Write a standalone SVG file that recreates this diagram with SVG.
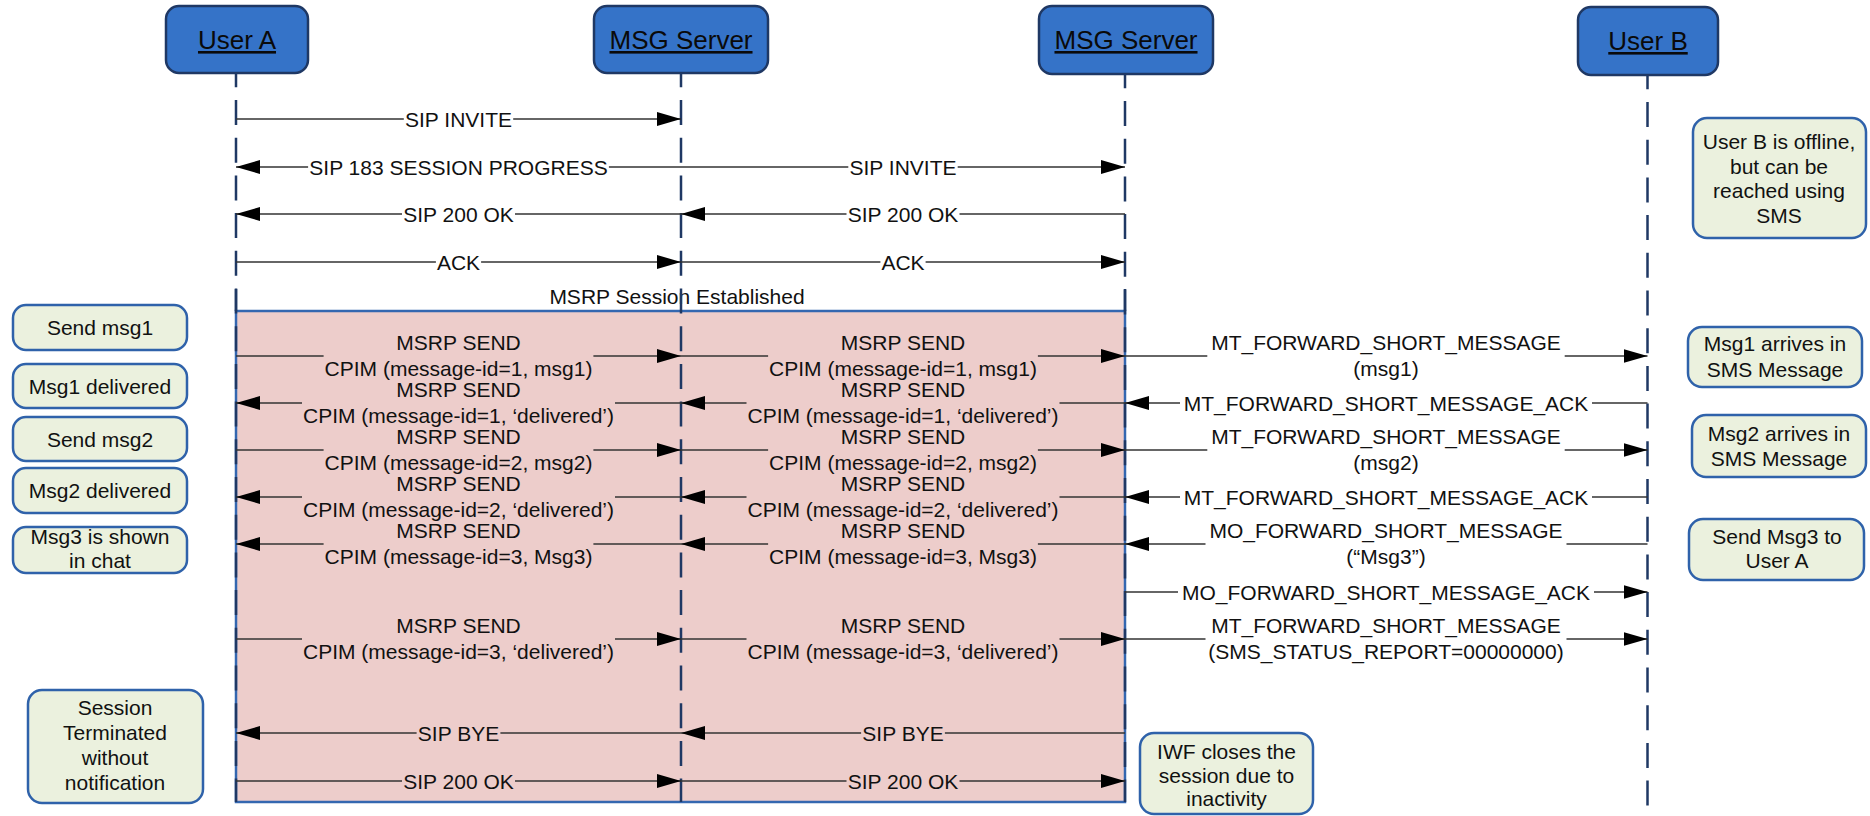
<svg xmlns="http://www.w3.org/2000/svg" width="1870" height="816" viewBox="0 0 1870 816">
<style>
.t{font-family:"Liberation Sans",Arial,sans-serif;font-size:21px;fill:#111;text-anchor:middle}
.nl{font-family:"Liberation Sans",Arial,sans-serif;font-size:26px;fill:#0a0a0a;text-anchor:middle;text-decoration:underline}
.node{fill:#3573C8;stroke:#1F3864;stroke-width:2.5}
.note{fill:#EBF1DE;stroke:#2F62AA;stroke-width:2.5}
.life{stroke:#1F3864;stroke-width:2.5;stroke-dasharray:25 12.7;stroke-dashoffset:10.7;fill:none}
.msg{stroke:#333;stroke-width:1.4;fill:none}
.arr{stroke:#333;stroke-width:1.4;fill:none;marker-end:url(#ah)}
</style>
<defs>
<marker id="ah" viewBox="0 0 24 14" refX="24" refY="7" markerWidth="24" markerHeight="14" markerUnits="userSpaceOnUse" orient="auto"><path d="M0,0 L24,7 L0,14 z" fill="#000"/></marker>
</defs>
<rect width="1870" height="816" fill="#fff"/>

<g id="msrp-frame">
<rect x="236" y="311" width="889" height="491" fill="#EDCDCB" stroke="#3467B0" stroke-width="2.5"/>
<line x1="236" y1="289" x2="236" y2="311" stroke="#1F3864" stroke-width="2.5"/>
<line x1="1125" y1="289" x2="1125" y2="311" stroke="#1F3864" stroke-width="2.5"/>
<text class="t" x="677" y="304">MSRP Session Established</text>
</g>

<g id="lifelines">
<line class="life" x1="236" y1="73" x2="236" y2="802"/>
<line class="life" x1="681" y1="73" x2="681" y2="802"/>
<line class="life" x1="1125" y1="74" x2="1125" y2="802"/>
<line class="life" x1="1647.5" y1="75" x2="1647.5" y2="806"/>
</g>

<g id="node-userA"><rect class="node" x="166" y="6" width="142" height="67" rx="13"/><text class="nl" x="237" y="49">User A</text></g>
<g id="node-msg1"><rect class="node" x="594" y="6" width="174" height="67" rx="13"/><text class="nl" x="681" y="49">MSG Server</text></g>
<g id="node-msg2"><rect class="node" x="1039" y="6" width="174" height="68" rx="13"/><text class="nl" x="1126" y="49">MSG Server</text></g>
<g id="node-userB"><rect class="node" x="1578" y="7" width="140" height="68" rx="13"/><text class="nl" x="1648" y="50">User B</text></g>

<g id="connectors">
<!-- SIP setup -->
<path class="msg" d="M236 119H403.8"/><path class="arr" d="M513.2 119H681"/>
<text class="t" x="458.5" y="126.5">SIP INVITE</text>
<path class="msg" d="M681 167H608.9"/><path class="arr" d="M308.1 167H236"/>
<text class="t" x="458.5" y="174.5">SIP 183 SESSION PROGRESS</text>
<path class="msg" d="M681 167H848.3"/><path class="arr" d="M957.7 167H1125"/>
<text class="t" x="903" y="174.5">SIP INVITE</text>
<path class="msg" d="M681 214H515"/><path class="arr" d="M402 214H236"/>
<text class="t" x="458.5" y="221.5">SIP 200 OK</text>
<path class="msg" d="M1125 214H959.5"/><path class="arr" d="M846.5 214H681"/>
<text class="t" x="903" y="221.5">SIP 200 OK</text>
<path class="msg" d="M236 262H435.9"/><path class="arr" d="M481.1 262H681"/>
<text class="t" x="458.5" y="269.5">ACK</text>
<path class="msg" d="M681 262H880.4"/><path class="arr" d="M925.6 262H1125"/>
<text class="t" x="903" y="269.5">ACK</text>

<!-- MSRP row 1 -->
<path class="msg" d="M236 356H323.6"/><path class="arr" d="M593.4 356H681"/>
<text class="t" x="458.5" y="350">MSRP SEND</text><text class="t" x="458.5" y="375.5">CPIM (message-id=1, msg1)</text>
<path class="msg" d="M681 356H768.1"/><path class="arr" d="M1037.9 356H1125"/>
<text class="t" x="903" y="350">MSRP SEND</text><text class="t" x="903" y="375.5">CPIM (message-id=1, msg1)</text>
<path class="msg" d="M1125 356H1207.3"/><path class="arr" d="M1564.7 356H1647.5"/>
<text class="t" x="1386" y="350">MT_FORWARD_SHORT_MESSAGE</text><text class="t" x="1386" y="375.5">(msg1)</text>

<!-- row 2 -->
<path class="msg" d="M681 403H615"/><path class="arr" d="M302 403H236"/>
<text class="t" x="458.5" y="397">MSRP SEND</text><text class="t" x="458.5" y="422.5">CPIM (message-id=1, ‘delivered’)</text>
<path class="msg" d="M1125 403H1059.5"/><path class="arr" d="M746.5 403H681"/>
<text class="t" x="903" y="397">MSRP SEND</text><text class="t" x="903" y="422.5">CPIM (message-id=1, ‘delivered’)</text>
<path class="msg" d="M1647.5 403H1592"/><path class="arr" d="M1180 403H1125"/>
<text class="t" x="1386" y="410.5">MT_FORWARD_SHORT_MESSAGE_ACK</text>

<!-- row 3 -->
<path class="msg" d="M236 450H323.6"/><path class="arr" d="M593.4 450H681"/>
<text class="t" x="458.5" y="444">MSRP SEND</text><text class="t" x="458.5" y="469.5">CPIM (message-id=2, msg2)</text>
<path class="msg" d="M681 450H768.1"/><path class="arr" d="M1037.9 450H1125"/>
<text class="t" x="903" y="444">MSRP SEND</text><text class="t" x="903" y="469.5">CPIM (message-id=2, msg2)</text>
<path class="msg" d="M1125 450H1207.3"/><path class="arr" d="M1564.7 450H1647.5"/>
<text class="t" x="1386" y="444">MT_FORWARD_SHORT_MESSAGE</text><text class="t" x="1386" y="469.5">(msg2)</text>

<!-- row 4 -->
<path class="msg" d="M681 497H615"/><path class="arr" d="M302 497H236"/>
<text class="t" x="458.5" y="491">MSRP SEND</text><text class="t" x="458.5" y="516.5">CPIM (message-id=2, ‘delivered’)</text>
<path class="msg" d="M1125 497H1059.5"/><path class="arr" d="M746.5 497H681"/>
<text class="t" x="903" y="491">MSRP SEND</text><text class="t" x="903" y="516.5">CPIM (message-id=2, ‘delivered’)</text>
<path class="msg" d="M1647.5 497H1592"/><path class="arr" d="M1180 497H1125"/>
<text class="t" x="1386" y="504.5">MT_FORWARD_SHORT_MESSAGE_ACK</text>

<!-- row 5 -->
<path class="msg" d="M681 544H593.4"/><path class="arr" d="M323.6 544H236"/>
<text class="t" x="458.5" y="538">MSRP SEND</text><text class="t" x="458.5" y="563.5">CPIM (message-id=3, Msg3)</text>
<path class="msg" d="M1125 544H1037.9"/><path class="arr" d="M768.1 544H681"/>
<text class="t" x="903" y="538">MSRP SEND</text><text class="t" x="903" y="563.5">CPIM (message-id=3, Msg3)</text>
<path class="msg" d="M1647.5 544H1566.5"/><path class="arr" d="M1205.5 544H1125"/>
<text class="t" x="1386" y="538">MO_FORWARD_SHORT_MESSAGE</text><text class="t" x="1386" y="563.5">(“Msg3”)</text>

<!-- row 6 -->
<path class="msg" d="M1125 592H1178"/><path class="arr" d="M1594 592H1647.5"/>
<text class="t" x="1386" y="599.5">MO_FORWARD_SHORT_MESSAGE_ACK</text>

<!-- row 7 -->
<path class="msg" d="M236 639H302"/><path class="arr" d="M615 639H681"/>
<text class="t" x="458.5" y="633">MSRP SEND</text><text class="t" x="458.5" y="658.5">CPIM (message-id=3, ‘delivered’)</text>
<path class="msg" d="M681 639H746.5"/><path class="arr" d="M1059.5 639H1125"/>
<text class="t" x="903" y="633">MSRP SEND</text><text class="t" x="903" y="658.5">CPIM (message-id=3, ‘delivered’)</text>
<path class="msg" d="M1125 639H1205.5"/><path class="arr" d="M1566.5 639H1647.5"/>
<text class="t" x="1386" y="633">MT_FORWARD_SHORT_MESSAGE</text><text class="t" x="1386" y="658.5">(SMS_STATUS_REPORT=00000000)</text>

<!-- teardown -->
<path class="msg" d="M681 733H500.4"/><path class="arr" d="M416.6 733H236"/>
<text class="t" x="458.5" y="740.5">SIP BYE</text>
<path class="msg" d="M1125 733H944.9"/><path class="arr" d="M861.1 733H681"/>
<text class="t" x="903" y="740.5">SIP BYE</text>
<path class="msg" d="M236 781H402"/><path class="arr" d="M515 781H681"/>
<text class="t" x="458.5" y="788.5">SIP 200 OK</text>
<path class="msg" d="M681 781H846.5"/><path class="arr" d="M959.5 781H1125"/>
<text class="t" x="903" y="788.5">SIP 200 OK</text>
</g>

<g id="note-send-msg1"><rect class="note" x="13" y="305" width="174" height="45" rx="13"/><text class="t" x="100" y="335">Send msg1</text></g>
<g id="note-msg1-delivered"><rect class="note" x="13" y="364" width="174" height="44" rx="13"/><text class="t" x="100" y="393.5">Msg1 delivered</text></g>
<g id="note-send-msg2"><rect class="note" x="13" y="417" width="174" height="44" rx="13"/><text class="t" x="100" y="446.5">Send msg2</text></g>
<g id="note-msg2-delivered"><rect class="note" x="13" y="468" width="174" height="45" rx="13"/><text class="t" x="100" y="498">Msg2 delivered</text></g>
<g id="note-msg3-shown"><rect class="note" x="13" y="527" width="174" height="46" rx="13"/><text class="t" x="100" y="543.5">Msg3 is shown</text><text class="t" x="100" y="567.5">in chat</text></g>
<g id="note-session-terminated"><rect class="note" x="28" y="690" width="175" height="113" rx="14"/><text class="t" x="115" y="715">Session</text><text class="t" x="115" y="740">Terminated</text><text class="t" x="115" y="765">without</text><text class="t" x="115" y="790">notification</text></g>
<g id="note-userb-offline"><rect class="note" x="1693" y="118" width="173" height="120" rx="14"/><text class="t" x="1779" y="149">User B is offline,</text><text class="t" x="1779" y="174">but can be</text><text class="t" x="1779" y="198">reached using</text><text class="t" x="1779" y="223">SMS</text></g>
<g id="note-msg1-arrives"><rect class="note" x="1688" y="327" width="174" height="60" rx="14"/><text class="t" x="1775" y="350.5">Msg1 arrives in</text><text class="t" x="1775" y="376.5">SMS Message</text></g>
<g id="note-msg2-arrives"><rect class="note" x="1692" y="415" width="174" height="62" rx="14"/><text class="t" x="1779" y="440.5">Msg2 arrives in</text><text class="t" x="1779" y="465.5">SMS Message</text></g>
<g id="note-send-msg3"><rect class="note" x="1689" y="519" width="175" height="61" rx="14"/><text class="t" x="1777" y="543.5">Send Msg3 to</text><text class="t" x="1777" y="567.5">User A</text></g>
<g id="note-iwf-closes"><rect class="note" x="1140" y="733" width="173" height="81" rx="14"/><text class="t" x="1226.5" y="758.5">IWF closes the</text><text class="t" x="1226.5" y="783">session due to</text><text class="t" x="1226.5" y="806">inactivity</text></g>
</svg>
